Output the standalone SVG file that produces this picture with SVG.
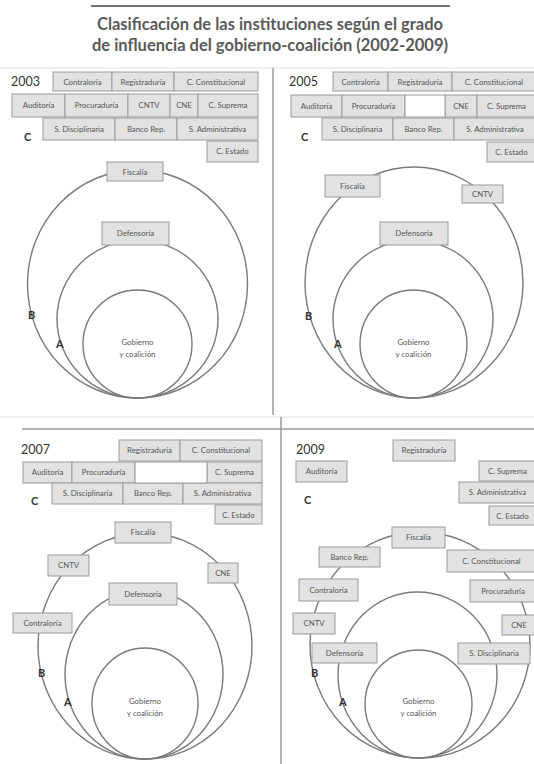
<svg xmlns="http://www.w3.org/2000/svg" width="534" height="764" viewBox="0 0 534 764">
<style>
text{font-family:Lato,"Open Sans","Liberation Sans",sans-serif;fill:#555}
.t{font-size:16.5px;font-weight:bold;text-anchor:middle;fill:#5a5a5a}
.yr{font-size:12.5px;fill:#333}
.b rect{fill:#e2e2e2;stroke:#9a9a9a;stroke-width:1}
.b text{font-size:7.8px;text-anchor:middle}
.e rect{fill:#fff;stroke:#9a9a9a;stroke-width:1}
.c{fill:none;stroke:#7a7a7a;stroke-width:1.4}
.lab{font-size:11px;font-weight:bold;fill:#333}
.g{font-size:7.8px;text-anchor:middle}
.ln{stroke:#999;stroke-width:1.5}
.fl{stroke:#ddd;stroke-width:1}
</style>
<g id="title">
<line x1="91" y1="6" x2="450" y2="6" stroke="#777" stroke-width="2"/>
<text class="t" x="270" y="30">Clasificación de las instituciones según el grado</text>
<text class="t" x="270" y="51">de influencia del gobierno-coalición  (2002-2009)</text>
</g>
<g id="dividers">
<line class="fl" x1="0" y1="68" x2="534" y2="68"/>
<line class="ln" x1="273" y1="68" x2="273" y2="415"/>
<line class="fl" x1="0" y1="417" x2="534" y2="417"/>
<line class="ln" x1="22" y1="429" x2="534" y2="429"/>
<line class="ln" x1="281" y1="417" x2="281" y2="764"/>
</g>

<!-- 2003 -->
<g id="p2003">
<text class="yr" x="11" y="86">2003</text>
<text class="lab" x="24" y="141">C</text>
<g class="c-grp">
<ellipse class="c" cx="137.5" cy="284" rx="110" ry="114"/>
<ellipse class="c" cx="137.5" cy="319" rx="80.5" ry="79"/>
<ellipse class="c" cx="137.5" cy="344" rx="54.5" ry="54"/>
</g>
<text class="g" x="137.5" y="345">Gobierno</text>
<text class="g" x="137.5" y="357">y coalición</text>
<text class="lab" x="28" y="319">B</text>
<text class="lab" x="56" y="348">A</text>
<g class="b">
<rect x="53" y="72" width="59" height="19"/><text x="82.5" y="84.5">Contraloría</text>
<rect x="112" y="72" width="62" height="19"/><text x="143" y="84.5">Registraduría</text>
<rect x="174" y="72" width="84" height="19"/><text x="216" y="84.5">C. Constitucional</text>
<rect x="12" y="94" width="53" height="23"/><text x="38.5" y="108">Auditoría</text>
<rect x="65" y="94" width="63" height="23"/><text x="96.5" y="108">Procuraduría</text>
<rect x="128" y="94" width="42" height="23"/><text x="149" y="108">CNTV</text>
<rect x="170" y="94" width="28" height="23"/><text x="184" y="108">CNE</text>
<rect x="198" y="94" width="60" height="23"/><text x="228" y="108">C. Suprema</text>
<rect x="43" y="118" width="72" height="22"/><text x="79" y="131.5">S. Disciplinaria</text>
<rect x="115" y="118" width="62" height="22"/><text x="146" y="131.5">Banco Rep.</text>
<rect x="177" y="118" width="81" height="22"/><text x="217.5" y="131.5">S. Administrativa</text>
<rect x="207" y="141" width="51" height="21"/><text x="232.5" y="154">C. Estado</text>
<rect x="107" y="162" width="56" height="19"/><text x="135" y="174.5">Fiscalía</text>
<rect x="102" y="222" width="67" height="23"/><text x="135.5" y="236">Defensoría</text>
</g>
</g>

<!-- 2005 -->
<g id="p2005">
<text class="yr" x="289" y="86">2005</text>
<text class="lab" x="301" y="141">C</text>
<ellipse class="c" cx="414" cy="282.5" rx="109" ry="115.5"/>
<ellipse class="c" cx="413" cy="319" rx="80" ry="79"/>
<ellipse class="c" cx="413.5" cy="344" rx="53.5" ry="54"/>
<text class="g" x="413.5" y="345">Gobierno</text>
<text class="g" x="413.5" y="357">y coalición</text>
<text class="lab" x="305" y="320">B</text>
<text class="lab" x="334" y="348">A</text>
<g class="b">
<rect x="333" y="72" width="55" height="19"/><text x="360.5" y="84.5">Contraloría</text>
<rect x="388" y="72" width="64" height="19"/><text x="420" y="84.5">Registraduría</text>
<rect x="452" y="72" width="84" height="19"/><text x="494" y="84.5">C. Constitucional</text>
<rect x="291" y="95" width="51" height="22"/><text x="316.5" y="108.5">Auditoría</text>
<rect x="342" y="95" width="63" height="22"/><text x="373.5" y="108.5">Procuraduría</text>
<rect x="445" y="95" width="32" height="22"/><text x="461" y="108.5">CNE</text>
<rect x="477" y="95" width="59" height="22"/><text x="506.5" y="108.5">C. Suprema</text>
<rect x="322" y="118" width="71" height="22"/><text x="357.5" y="131.5">S. Disciplinaria</text>
<rect x="393" y="118" width="61" height="22"/><text x="423.5" y="131.5">Banco Rep.</text>
<rect x="454" y="118" width="82" height="22"/><text x="495" y="131.5">S. Administrativa</text>
<rect x="487" y="142" width="49" height="20"/><text x="511.5" y="154.5">C. Estado</text>
<rect x="325" y="175" width="55" height="22"/><text x="352.5" y="188.5">Fiscalía</text>
<rect x="462" y="185" width="41" height="18"/><text x="482.5" y="197">CNTV</text>
<rect x="380" y="222" width="68" height="23"/><text x="414" y="236">Defensoría</text>
</g>
<g class="e"><rect x="405" y="95" width="40" height="22"/></g>
</g>

<!-- 2007 -->
<g id="p2007">
<text class="yr" x="21" y="454">2007</text>
<text class="lab" x="31" y="505">C</text>
<ellipse class="c" cx="145" cy="646" rx="107" ry="113"/>
<ellipse class="c" cx="144" cy="674.5" rx="79" ry="84.5"/>
<ellipse class="c" cx="145" cy="703.5" rx="53" ry="55.5"/>
<text class="g" x="145" y="704">Gobierno</text>
<text class="g" x="145" y="716">y coalición</text>
<text class="lab" x="38" y="677">B</text>
<text class="lab" x="64" y="706">A</text>
<g class="b">
<rect x="119" y="440" width="61" height="21"/><text x="149.5" y="453">Registraduría</text>
<rect x="180" y="440" width="82" height="21"/><text x="221" y="453">C. Constitucional</text>
<rect x="23" y="462" width="49" height="21"/><text x="47.5" y="475">Auditoría</text>
<rect x="72" y="462" width="63" height="21"/><text x="103.5" y="475">Procuraduría</text>
<rect x="207" y="462" width="55" height="21"/><text x="234.5" y="475">C. Suprema</text>
<rect x="52" y="483" width="71" height="21"/><text x="87.5" y="496">S. Disciplinaria</text>
<rect x="123" y="483" width="60" height="21"/><text x="153" y="496">Banco Rep.</text>
<rect x="183" y="483" width="79" height="21"/><text x="222.5" y="496">S. Administrativa</text>
<rect x="215" y="505" width="47" height="19"/><text x="238.5" y="517.5">C. Estado</text>
<rect x="115" y="522" width="56" height="21"/><text x="143" y="535">Fiscalía</text>
<rect x="48" y="555" width="41" height="21"/><text x="68.5" y="568">CNTV</text>
<rect x="208" y="563" width="30" height="20"/><text x="223" y="576">CNE</text>
<rect x="13" y="613" width="59" height="20"/><text x="42.5" y="626">Contraloría</text>
<rect x="109" y="583" width="68" height="22"/><text x="143" y="596.5">Defensoría</text>
</g>
<g class="e"><rect x="135" y="462" width="72" height="21"/></g>
</g>

<!-- 2009 -->
<g id="p2009">
<text class="yr" x="296" y="454">2009</text>
<text class="lab" x="304" y="504">C</text>
<ellipse class="c" cx="420" cy="645" rx="110" ry="113"/>
<ellipse class="c" cx="417.5" cy="675" rx="79.5" ry="83"/>
<ellipse class="c" cx="418.5" cy="704" rx="53.5" ry="54"/>
<text class="g" x="418.5" y="704">Gobierno</text>
<text class="g" x="418.5" y="716">y coalición</text>
<text class="lab" x="311" y="677">B</text>
<text class="lab" x="339" y="706">A</text>
<g class="b">
<rect x="393" y="440" width="62" height="21"/><text x="424" y="453">Registraduría</text>
<rect x="296" y="461" width="51" height="21"/><text x="321.5" y="474">Auditoría</text>
<rect x="479" y="461" width="57" height="20"/><text x="507.5" y="473.5">C. Suprema</text>
<rect x="459" y="482" width="77" height="21"/><text x="497.5" y="495">S. Administrativa</text>
<rect x="489" y="506" width="47" height="19"/><text x="512.5" y="518.5">C. Estado</text>
<rect x="392" y="527" width="53" height="21"/><text x="418.5" y="540">Fiscalía</text>
<rect x="319" y="547" width="61" height="20"/><text x="349.5" y="560">Banco Rep.</text>
<rect x="447" y="550" width="89" height="22"/><text x="491.5" y="563.5">C. Constitucional</text>
<rect x="299" y="579" width="59" height="22"/><text x="328.5" y="592.5">Contraloría</text>
<rect x="470" y="580" width="66" height="22"/><text x="503" y="593.5">Procuraduría</text>
<rect x="293" y="613" width="42" height="21"/><text x="314" y="626">CNTV</text>
<rect x="502" y="615" width="34" height="20"/><text x="519" y="628">CNE</text>
<rect x="312" y="643" width="65" height="20"/><text x="344.5" y="656">Defensoría</text>
<rect x="458" y="643" width="72" height="21"/><text x="494" y="656">S. Disciplinaria</text>
</g>
</g>
</svg>
